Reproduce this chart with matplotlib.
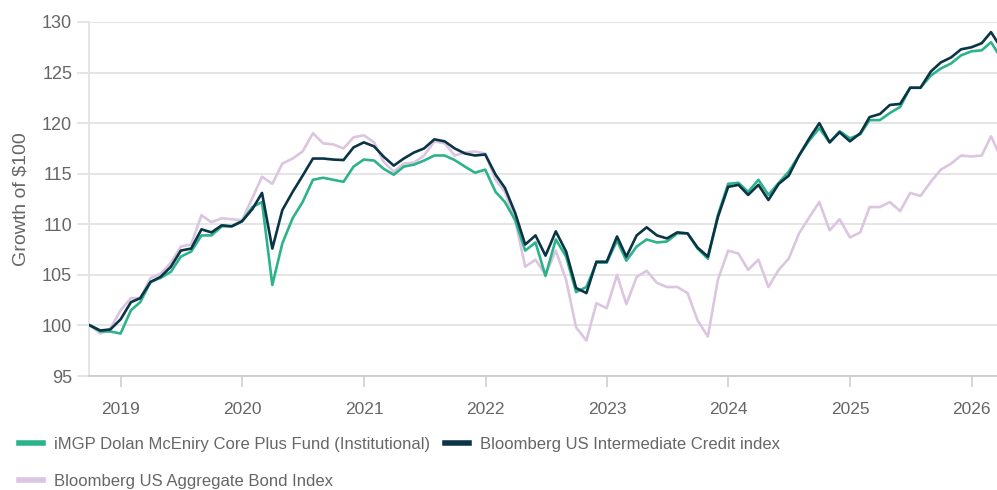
import matplotlib
matplotlib.use("Agg")
import matplotlib.pyplot as plt
import matplotlib.dates as mdates
import pandas as pd

# month-end growth of $100, Sep 2018 - Mar 2026
dates = pd.date_range("2018-09-30", periods=91, freq="ME")

fund = [100.0, 99.4, 99.4, 99.2, 101.5, 102.3, 104.3, 104.7, 105.3, 106.8,
        107.3, 108.9, 108.9, 109.8, 109.8, 110.3, 111.7, 112.2, 104.0, 108.1,
        110.6, 112.2, 114.4, 114.6, 114.4, 114.2, 115.7, 116.4, 116.3, 115.5,
        114.9, 115.7, 115.9, 116.3, 116.8, 116.8, 116.35, 115.7, 115.1, 115.4,
        113.2, 112.2, 110.4, 107.4, 108.2, 104.9, 108.5, 106.8, 103.3, 103.8,
        106.2, 106.2, 108.4, 106.4, 107.8, 108.5, 108.2, 108.3, 109.1, 109.1,
        107.6, 106.6, 110.9, 114.0, 114.1, 113.2, 114.4, 112.9, 114.1, 115.2,
        116.8, 118.3, 119.5, 118.1, 119.2, 118.5, 118.9, 120.3, 120.3, 121.0,
        121.6, 123.5, 123.5, 124.7, 125.4, 125.9, 126.7, 127.1, 127.2, 128.0,
        126.4]

credit = [100.0, 99.5, 99.6, 100.6, 102.3, 102.7, 104.3, 104.8, 105.8, 107.4,
          107.6, 109.5, 109.2, 109.9, 109.8, 110.3, 111.5, 113.1, 107.6, 111.4,
          113.2, 114.8, 116.5, 116.5, 116.4, 116.35, 117.6, 118.1, 117.7, 116.7,
          115.8, 116.5, 117.1, 117.5, 118.4, 118.2, 117.5, 117.0, 116.8, 116.9,
          114.9, 113.6, 111.1, 108.0, 108.9, 106.9, 109.3, 107.3, 103.7, 103.2,
          106.3, 106.3, 108.8, 106.8, 108.9, 109.7, 108.9, 108.6, 109.2, 109.1,
          107.7, 106.8, 110.7, 113.7, 113.9, 112.9, 113.9, 112.4, 114.0, 114.8,
          116.8, 118.5, 120.0, 118.1, 119.1, 118.2, 119.0, 120.6, 120.9, 121.8,
          121.9, 123.5, 123.5, 125.1, 126.0, 126.5, 127.3, 127.5, 127.9, 129.0,
          127.4]

agg = [100.0, 99.2, 99.7, 101.5, 102.7, 102.7, 104.7, 105.1, 106.2, 107.8,
       108.0, 110.9, 110.2, 110.6, 110.5, 110.4, 112.6, 114.7, 114.0, 116.0,
       116.5, 117.2, 119.0, 118.0, 117.9, 117.5, 118.6, 118.8, 118.1, 116.2,
       115.2, 116.0, 116.1, 116.8, 118.2, 118.0, 116.8, 117.1, 117.2, 117.0,
       114.4, 113.2, 110.4, 105.8, 106.5, 105.0, 107.4, 104.5, 99.8, 98.5,
       102.2, 101.7, 105.0, 102.1, 104.8, 105.4, 104.2, 103.8, 103.8, 103.2,
       100.5, 98.9, 104.5, 107.4, 107.1, 105.5, 106.5, 103.8, 105.5, 106.6,
       109.1, 110.7, 112.2, 109.4, 110.5, 108.7, 109.2, 111.7, 111.7, 112.2,
       111.3, 113.1, 112.8, 114.2, 115.4, 116.0, 116.8, 116.7, 116.8, 118.7,
       116.5]

names = ["iMGP Dolan McEniry Core Plus Fund (Institutional)",
         "Bloomberg US Intermediate Credit index",
         "Bloomberg US Aggregate Bond Index"]
colors = ["#2db38a", "#0b3447", "#dcc5e0"]
yticks = [95, 100, 105, 110, 115, 120, 125, 130]

plt.rcParams["font.family"] = ["Liberation Sans", "DejaVu Sans"]
txt = "#666666"
grid = "#e3e3e3"

fig = plt.figure(figsize=(9.97, 4.9), dpi=100)
ax = fig.add_axes([89 / 997, 1 - 376 / 490, 1 - 89 / 997, (376 - 22) / 490])

l_agg, = ax.plot(dates, agg, color=colors[2], lw=1.9, zorder=2)
l_fund, = ax.plot(dates, fund, color=colors[0], lw=1.9, zorder=3)
l_cred, = ax.plot(dates, credit, color=colors[1], lw=1.9, zorder=4)

ax.set_ylim(95, 130)
ax.set_yticks(yticks)
ax.set_xlim(pd.Timestamp("2018-09-27"), pd.Timestamp("2026-03-18"))
ax.xaxis.set_major_locator(mdates.YearLocator())
ax.xaxis.set_major_formatter(mdates.DateFormatter("%Y"))

ax.grid(axis="y", color=grid, lw=1.3)
ax.set_axisbelow(True)
for s in ["top", "right"]:
    ax.spines[s].set_visible(False)
ax.spines["left"].set_color(grid)
ax.spines["left"].set_linewidth(1.3)
ax.spines["bottom"].set_color("#cccccc")
ax.spines["bottom"].set_linewidth(1.3)

ax.tick_params(axis="y", length=8.6, width=1.3, color=grid, pad=3.5,
               labelsize=13, labelcolor=txt)
ax.tick_params(axis="x", length=8, width=1.1, color="#cccccc", pad=11,
               labelsize=12.5, labelcolor=txt)
ax.set_ylabel("Growth of $100", fontsize=14, color=txt, labelpad=9)

handles = [l_fund, l_agg, l_cred]
labels = [names[0], names[2], names[1]]
leg = fig.legend(handles, labels, loc="upper left", bbox_to_anchor=(0.012, 0.122),
                 ncol=2, frameon=False, fontsize=12, labelcolor=txt,
                 handlelength=1.45, handletextpad=0.65, columnspacing=0.9,
                 labelspacing=1.34, borderaxespad=0)
for h in leg.legend_handles:
    h.set_linewidth(4)

fig.savefig("out.png", dpi=100)
